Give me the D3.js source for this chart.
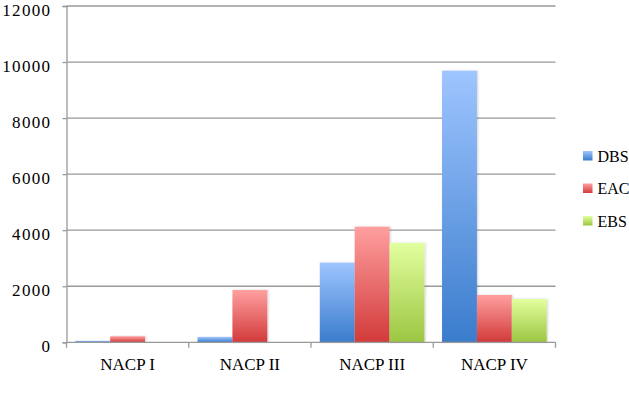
<!DOCTYPE html>
<html><head><meta charset="utf-8">
<script src="https://cdn.jsdelivr.net/npm/d3@7"></script>
<style>body{margin:0;background:#fff}svg{display:block}</style>
</head><body><svg id="c" width="629" height="416"></svg>
<script>
const categories = ["NACP I", "NACP II", "NACP III", "NACP IV"];
const seriesNames = ["DBS", "EAC", "EBS"];
const DBS = [50, 190, 2840, 9690];
const EAC = [215, 1865, 4125, 1690];
const EBS = [0, 0, 3545, 1545];
const yTicks = [0, 2000, 4000, 6000, 8000, 10000, 12000];
const colors = {
  DBS: ["#9ec5ff", "#3a7ccc"],
  EAC: ["#ff9f9f", "#d23a3a"],
  EBS: ["#e2ff9e", "#9cc642"]
};
const values = {DBS, EAC, EBS};
const FONT = "'Liberation Serif', 'Times New Roman', serif";

const svg = d3.select("#c");
const x = d3.scaleBand().domain(categories).range([66.5, 555.5]).paddingInner(0).paddingOuter(0);
const x1 = d3.scaleBand().domain(seriesNames).range([0, x.bandwidth()]).paddingOuter(0.252).paddingInner(0);
const y = d3.scaleLinear().domain([0, 12000]).range([342.3, 6]);

const defs = svg.append("defs");
seriesNames.forEach(s => {
  const g = defs.append("linearGradient").attr("id", "g" + s).attr("x1", 0).attr("y1", 0).attr("x2", 0).attr("y2", 1);
  g.append("stop").attr("offset", 0).attr("stop-color", colors[s][0]);
  g.append("stop").attr("offset", 1).attr("stop-color", colors[s][1]);
});
const f = defs.append("filter").attr("id", "sh").attr("x", "-20%").attr("y", "-5%").attr("width", "140%").attr("height", "110%");
f.append("feDropShadow").attr("dx", 1).attr("dy", 0).attr("stdDeviation", 1).attr("flood-color", "#000").attr("flood-opacity", 0.18);

// y axis
const ya = d3.axisLeft(y).tickValues(yTicks).tickSize(4).tickPadding(12).tickFormat(d3.format("d"));
const gy = svg.append("g").attr("transform", "translate(66.5,0)").call(ya);
gy.select(".domain").attr("stroke", "#999").attr("stroke-width", 1.3);
gy.selectAll(".tick line").attr("stroke", "#999").attr("stroke-width", 1.3);
gy.selectAll(".tick text").attr("font-family", FONT).attr("font-size", 17).attr("fill", "#000")
  .attr("letter-spacing", "1.3px").attr("dy", "0.33em").attr("y", 3.6).attr("x", -15.2);
svg.append("g").selectAll("line").data(yTicks.filter(d => d > 0)).join("line")
  .attr("x1", 66.5).attr("x2", 555.5).attr("y1", d => y(d)).attr("y2", d => y(d))
  .attr("stroke", "#999").attr("stroke-width", 1.3);

// bars
const groups = svg.append("g").selectAll("g").data(categories).join("g")
  .attr("transform", d => `translate(${x(d)},0)`);
groups.selectAll("rect").data((c, i) => seriesNames.map(s => ({s, v: values[s][i]})).filter(d => d.v > 0)).join("rect")
  .attr("x", d => x1(d.s)).attr("width", x1.bandwidth())
  .attr("y", d => y(d.v)).attr("height", d => y(0) - y(d.v))
  .attr("fill", d => `url(#g${d.s})`).attr("filter", "url(#sh)");

// x axis
const gx = svg.append("g").attr("transform", `translate(0,${y(0)})`);
gx.append("line").attr("x1", 66.5).attr("x2", 555.5).attr("stroke", "#999").attr("stroke-width", 1.3);
const bounds = categories.map(c => x(c)).concat([x.range()[1]]);
gx.selectAll("line.t").data(bounds).join("line").attr("class", "t")
  .attr("x1", d => d).attr("x2", d => d).attr("y1", 0).attr("y2", 5.5).attr("stroke", "#999").attr("stroke-width", 1.3);
gx.selectAll("text").data(categories).join("text")
  .attr("x", d => x(d) + x.bandwidth() / 2).attr("y", 28).attr("text-anchor", "middle")
  .attr("font-family", FONT).attr("font-size", 17).attr("fill", "#000").text(d => d);

// legend
const lg = svg.append("g").selectAll("g").data(seriesNames).join("g")
  .attr("transform", (d, i) => `translate(583,${151 + i * 32.5})`);
lg.append("rect").attr("width", 9.5).attr("height", 9.5).attr("fill", d => `url(#g${d})`);
lg.append("text").attr("x", 14.5).attr("y", 10.5).attr("font-family", FONT)
  .attr("font-size", 16).attr("fill", "#000").text(d => d);
</script></body></html>
